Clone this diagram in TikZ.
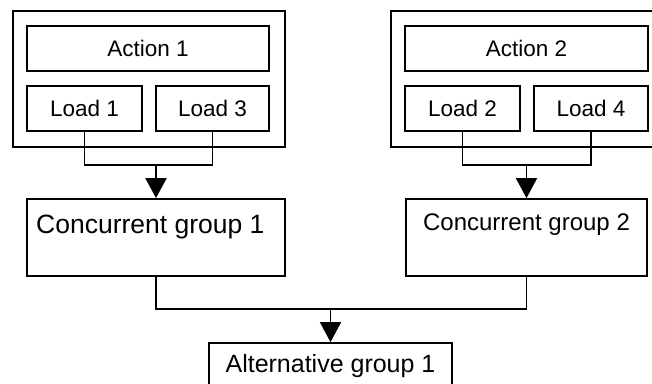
\documentclass[tikz,border=0pt]{standalone}
\usepackage{fontspec}
\setmainfont{Liberation Sans}
\usetikzlibrary{arrows.meta}
\begin{document}
\begin{tikzpicture}[x=1pt,y=-1pt,
  box/.style={draw, line width=1.8pt, rectangle, inner sep=0pt},
  conn/.style={line width=1.8pt},
  arr/.style={conn, -{Triangle[width=21pt,length=20pt]}},
  smalltxt/.style={font=\fontsize{22.5}{26}\selectfont},
  bigtxt/.style={inner sep=0pt, font=\fontsize{26.5}{30}\selectfont},
  midtxt/.style={inner sep=0pt, font=\fontsize{24}{28}\selectfont},
  alttxt/.style={inner sep=0pt, font=\fontsize{25}{29}\selectfont}]
\useasboundingbox (0,0) rectangle (652,383);
\clip (0,0) rectangle (652,383);
% group 1
\node[box, minimum width=272pt, minimum height=136pt] (outer1) at (149,79) {};
\node[box, smalltxt, minimum width=242pt, minimum height=45pt] (act1) at (148,48.5) {Action 1};
\node[box, smalltxt, minimum width=115pt, minimum height=45pt] (load1) at (84.5,108.5) {Load 1};
\node[box, smalltxt, minimum width=113pt, minimum height=45pt] (load3) at (212.5,108.5) {Load 3};
% group 2
\node[box, minimum width=274pt, minimum height=136pt] (outer2) at (528,79) {};
\node[box, smalltxt, minimum width=243pt, minimum height=45pt] (act2) at (526.5,48.5) {Action 2};
\node[box, smalltxt, minimum width=115pt, minimum height=45pt] (load2) at (462.5,108.5) {Load 2};
\node[box, smalltxt, minimum width=114pt, minimum height=45pt] (load4) at (591,108.5) {Load 4};
% concurrent groups
\node[box, minimum width=258pt, minimum height=77pt] (cg1) at (156,237.5) {};
\node[bigtxt, anchor=base west] (cg1t) at (36,233) {Concurrent group 1};
\node[box, minimum width=241pt, minimum height=77pt] (cg2) at (526.5,237.5) {};
\node[midtxt, anchor=base] (cg2t) at (526.5,230) {Concurrent group 2};
% alternative group
\node[box, minimum width=243pt, minimum height=57pt] (alt) at (330.5,371.5) {};
\node[alttxt, anchor=base] (altt) at (330.5,372) {Alternative group 1};
% connectors
\coordinate (j1) at (156,164);
\coordinate (j2) at (526.5,164);
\coordinate (j3) at (330.5,308);
\draw[conn] (load1.south) -- ++(0,33) -| (load3.south);
\draw[arr] (j1) -- (cg1.north);
\draw[conn] (load2.south) -- ++(0,33) -| (load4.south);
\draw[arr] (j2) -- (cg2.north);
\draw[conn] (cg1.south) -- ++(0,32) -| (cg2.south);
\draw[arr] (j3) -- (alt.north);
\end{tikzpicture}
\end{document}
